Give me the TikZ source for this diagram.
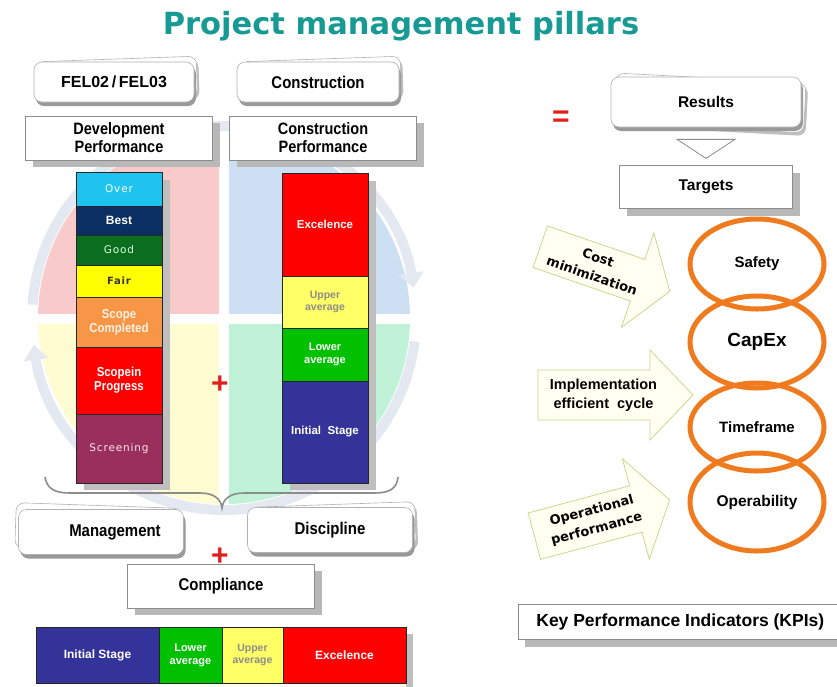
\documentclass[tikz,border=0pt]{standalone}
\usepackage{fontspec}
\setmainfont{Liberation Sans}
\newfontfamily\cond[FakeStretch=0.88]{Liberation Sans}
\newfontfamily\dvs[LetterSpace=8]{DejaVu Sans}
\newfontfamily\dvb{DejaVu Sans}
\usetikzlibrary{shadows,arrows.meta,shapes.geometric}
\newcommand\fsz[2]{\fontsize{#1}{#2}\selectfont}
\definecolor{titlec}{HTML}{179A93}
\definecolor{pinkq}{HTML}{F9CACA}
\definecolor{blueq}{HTML}{CDDFF3}
\definecolor{yellowq}{HTML}{FFFCD2}
\definecolor{greenq}{HTML}{C0F2D8}
\definecolor{ringc}{HTML}{E4E9F1}
\definecolor{cOver}{HTML}{1FC3F0}
\definecolor{cBest}{HTML}{0B2F62}
\definecolor{cGood}{HTML}{0B6E1F}
\definecolor{cFair}{HTML}{FFFF00}
\definecolor{cScope}{HTML}{F79646}
\definecolor{cRed}{HTML}{FF0000}
\definecolor{cScreen}{HTML}{9A2F5E}
\definecolor{cUpper}{HTML}{FFFF66}
\definecolor{cLower}{HTML}{00C000}
\definecolor{cInit}{HTML}{333399}
\definecolor{orangeE}{HTML}{F07A1E}
\definecolor{arrowF}{HTML}{FFFFF2}
\definecolor{arrowD}{HTML}{C8D98E}
\definecolor{plusred}{HTML}{E0201E}
\definecolor{bracec}{HTML}{8C8C8C}
\begin{document}
\begin{tikzpicture}[x=1pt,y=-1pt,
  shd/.style={drop shadow={shadow xshift=7pt,shadow yshift=-7pt,fill=black!28,opacity=1}},
  rbox/.style={draw=black!45,line width=0.6pt,fill=white,inner sep=0,align=center,shd},
  cardb/.style={draw=black!30,line width=0.6pt,fill=white,rounded corners=8pt,inner sep=0,
     drop shadow={shadow xshift=2pt,shadow yshift=-3pt,fill=black!25,opacity=1}},
  cardf/.style={draw=black!30,line width=0.6pt,fill=white,rounded corners=8pt,inner sep=0,align=center,
     drop shadow={shadow xshift=2pt,shadow yshift=-4pt,fill=black!40,opacity=1}},
  seg/.style={draw=black!85,line width=0.8pt,minimum width=86,inner sep=0,align=center},
  hseg/.style={draw=black!85,line width=0.8pt,minimum height=56,inner sep=0,align=center},
  barshadow/.style={fill=black!25},
  ell/.style={ellipse,draw=orangeE,line width=5pt,inner sep=0,minimum width=134},
  barrow/.style={draw=arrowD,fill=arrowF,line width=0.8pt,line join=miter},
  ring/.style={draw=ringc,line width=10pt},
  plus/.style={text=plusred,font=\bfseries\fsz{30}{30},inner sep=0}
]
\useasboundingbox (0,0) rectangle (837,686);
\fill[white] (0,0) rectangle (837,686);

% title
\node[text=titlec,font=\dvb\bfseries\fsz{30.5}{32}] (title) at (401,26) {Project management pillars};

% background quadrants
\begin{scope}
  \clip (224,318) circle[radius=186];
  \fill[pinkq] (30,110) rectangle (219,314);
  \fill[blueq] (229,110) rectangle (420,314);
  \fill[yellowq] (30,324) rectangle (219,530);
  \fill[greenq] (229,324) rectangle (420,530);
\end{scope}
% ring arrows
\begin{scope}[shift={(224,318)},y=1pt]
  \draw[ring,-{Triangle[width=24pt,length=15pt]}] (-7:192) arc[start angle=-7,end angle=-172,radius=192];
  \draw[ring,-{Triangle[width=24pt,length=15pt]}] (176:192) arc[start angle=176,end angle=9,radius=192];
\end{scope}

% top cards
\node[cardb,minimum width=160,minimum height=40,rotate=2] (felb) at (117,79) {};
\node[cardf,minimum width=160,minimum height=40,font=\bfseries\fsz{16}{18}] (fel) at (114,82) {FEL02\,/\,FEL03};
\node[cardb,minimum width=160,minimum height=40,rotate=2] (consb) at (321,79) {};
\node[cardf,minimum width=162,minimum height=40,font=\cond\bfseries\fsz{17}{18}] (cons) at (318,82) {Construction};

% performance boxes
\node[rbox,minimum width=187,minimum height=44,font=\cond\bfseries\fsz{16.5}{18}] (devp) at (119,138) {Development\\Performance};
\node[rbox,minimum width=187,minimum height=44,font=\cond\bfseries\fsz{16.5}{18}] (conp) at (323,138) {Construction\\Performance};

% bar shadows
\fill[barshadow] (162,180) rectangle (170,490);
\fill[barshadow] (84,483) rectangle (170,490);
\fill[barshadow] (368,181) rectangle (376,490);
\fill[barshadow] (290,483) rectangle (376,490);

% left bar
\node[seg,fill=cOver,minimum height=34,text=white,font=\dvs\fsz{10.5}{12}] (over) at (119,189) {Over};
\node[seg,fill=cBest,minimum height=29,text=white,font=\bfseries\fsz{12}{13}] (best) at (119,220.5) {Best};
\node[seg,fill=cGood,minimum height=30,text=green!15,font=\dvs\fsz{10.5}{12}] (good) at (119,250) {Good};
\node[seg,fill=cFair,minimum height=32,text=black!80,font=\dvs\bfseries\fsz{10}{12}] (fair) at (119,281) {Fair};
\node[seg,fill=cScope,minimum height=50,text=orange!10,font=\cond\bfseries\fsz{13}{14}] (scomp) at (119,322) {Scope\\Completed};
\node[seg,fill=cRed,minimum height=67,text=white,font=\cond\bfseries\fsz{13}{14}] (sprog) at (119,380.5) {Scopein\\Progress};
\node[seg,fill=cScreen,minimum height=69,text=pink!40,font=\dvs\fsz{10.5}{12}] (screen) at (119,448.5) {Screening};

% right bar
\node[seg,fill=cRed,minimum height=103,text=white,font=\bfseries\fsz{11.5}{13}] (exc) at (325,224.5) {Excelence};
\node[seg,fill=cUpper,minimum height=52,text=black!45,font=\bfseries\fsz{10.5}{12}] (upp) at (325,302) {Upper\\average};
\node[seg,fill=cLower,minimum height=53,text=white,font=\bfseries\fsz{11}{13}] (low) at (325,354.5) {Lower\\average};
\node[seg,fill=cInit,minimum height=102,text=white,font=\bfseries\fsz{11.5}{13}] (init) at (325,432) {Initial\ \ Stage};

\node[plus] (plus1) at (220,385) {+};

% brace
\draw[bracec,line width=1.6pt] (45,477) .. controls (47,489) and (55,493) .. (70,493) -- (200,493)
  .. controls (214,493) and (221,499) .. (222,508) .. controls (223,499) and (230,493) .. (244,493)
  -- (374,493) .. controls (389,493) and (397,489) .. (398,477);

% bottom cards
\node[cardb,minimum width=165,minimum height=45,rotate=-2] (mgmtb) at (98,528) {};
\node[cardf,minimum width=165,minimum height=45,font=\cond\bfseries\fsz{17}{18}] (mgmt) at (101,532) {\hspace*{28pt}Management};
\node[cardb,minimum width=165,minimum height=45,rotate=2] (discb) at (333,527) {};
\node[cardf,minimum width=165,minimum height=45,font=\cond\bfseries\fsz{17}{18}] (disc) at (330,530) {Discipline};

\node[plus] (plus2) at (220,557) {+};

\node[rbox,minimum width=187,minimum height=44,font=\cond\bfseries\fsz{17}{18}] (comp) at (221,586) {Compliance};

% bottom bar
\fill[barshadow] (406,634) rectangle (413,690);
\node[hseg,fill=cInit,minimum width=123,text=white,font=\bfseries\fsz{12}{13}] (binit) at (97.5,655) {Initial Stage};
\node[hseg,fill=cLower,minimum width=63,text=white,font=\bfseries\fsz{11}{13}] (blow) at (190.5,655) {Lower\\average};
\node[hseg,fill=cUpper,minimum width=61,text=black!45,font=\bfseries\fsz{10.5}{12}] (bupp) at (252.5,655) {Upper\\average};
\node[hseg,fill=cRed,minimum width=123,text=white,font=\bfseries\fsz{12}{13}] (bexc) at (344.5,655) {Excelence};

% right side
\node[text=plusred,font=\bfseries\fsz{30}{30},inner sep=0] (eq) at (561,119) {=};
\node[cardb,minimum width=190,minimum height=50,rotate=-3] (resb) at (710,103) {};
\node[cardf,minimum width=190,minimum height=50,font=\bfseries\fsz{15.5}{17}] (res) at (706,102) {Results};
\node[draw=black!45,line width=0.8pt,fill=white,isosceles triangle,isosceles triangle apex angle=90,shape border rotate=-90,
      minimum width=58,minimum height=19,inner sep=0,isosceles triangle stretches] (tri) at (706,148) {};
\node[rbox,minimum width=173,minimum height=43,font=\bfseries\fsz{15.5}{17}] (targ) at (706,187) {Targets};

% ellipses
\node[ell,minimum height=90,font=\bfseries\fsz{15}{16}] (safety) at (757,264) {Safety};
\node[ell,minimum height=92,font=\bfseries\fsz{19}{20}] (capex) at (757,342) {CapEx};
\node[ell,minimum height=88,font=\bfseries\fsz{15}{16}] (time) at (757,427) {Timeframe};
\node[ell,minimum height=98,font=\bfseries\fsz{15.5}{16}] (oper) at (757,502) {Operability};

% block arrows
\begin{scope}[shift={(605,269)},rotate=-19]
  \draw[barrow] (-68.5,-22) -- (34.5,-22) -- (34.5,-50) -- (68.5,0) -- (34.5,50) -- (34.5,22) -- (-68.5,22) -- cycle;
  \node[align=center,font=\dvb\bfseries\fsz{13}{19},transform shape] (cost) at (-10,1) {Cost\\minimization};
\end{scope}
\begin{scope}[shift={(615.5,395)}]
  \draw[barrow] (-77.5,-25) -- (34.5,-25) -- (34.5,-45) -- (77.5,0) -- (34.5,45) -- (34.5,25) -- (-77.5,25) -- cycle;
  \node[align=center,font=\bfseries\fsz{14.5}{19}] (impl) at (-12,0) {Implementation\\efficient\ \ cycle};
\end{scope}
\begin{scope}[shift={(602,518)},rotate=15]
  \draw[barrow] (-70,-24) -- (35,-24) -- (35,-52) -- (70,0) -- (35,52) -- (35,24) -- (-70,24) -- cycle;
  \node[align=center,font=\dvb\bfseries\fsz{13}{19},transform shape] (operp) at (-8,0) {Operational\\performance};
\end{scope}

% KPI box
\node[rbox,minimum width=330,minimum height=35,anchor=west,font=\bfseries\fsz{17.5}{19}] (kpi) at (518,622) {Key Performance Indicators (KPIs)\hspace*{6pt}};
\end{tikzpicture}
\end{document}
